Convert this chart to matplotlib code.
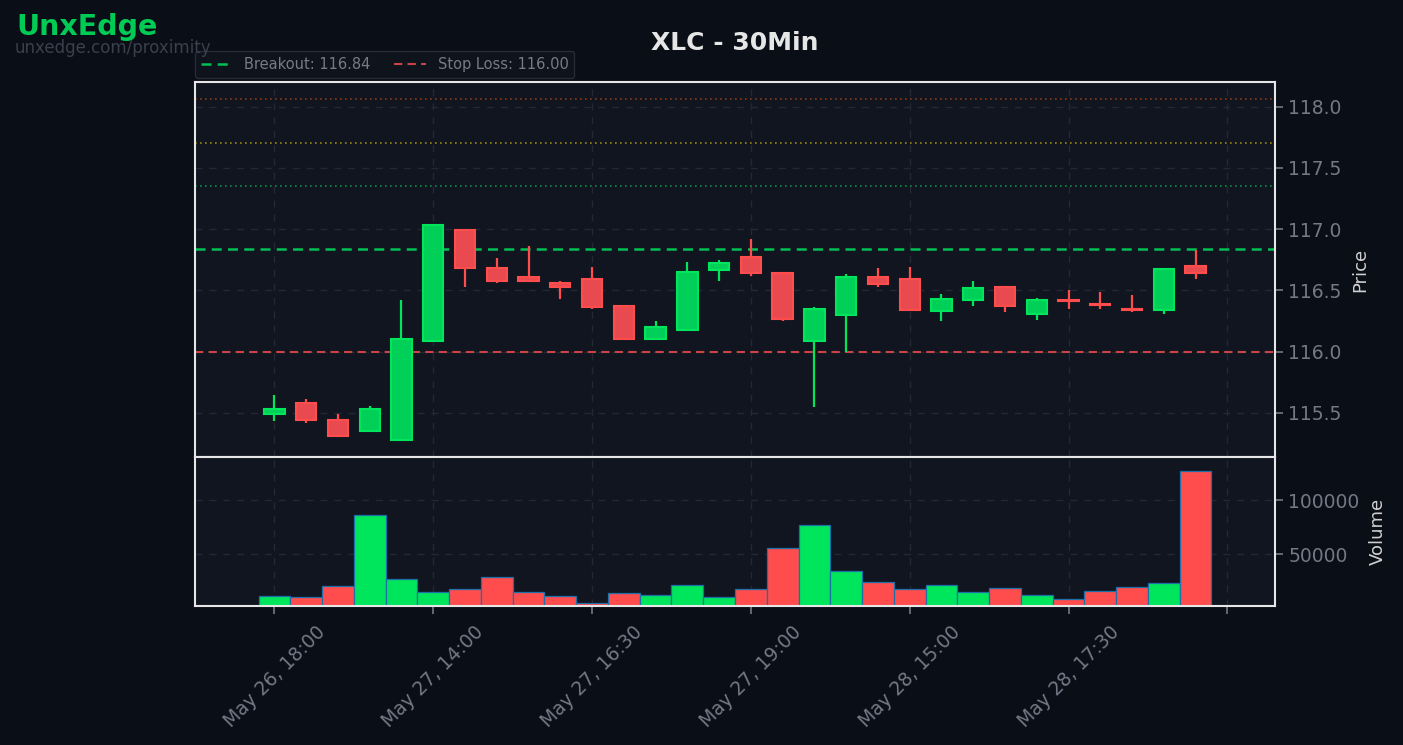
import matplotlib
matplotlib.use("Agg")
import matplotlib.pyplot as plt
import numpy as np

# ---------------- data ----------------
opens  = [115.49, 115.58, 115.44, 115.35, 115.28, 116.09, 116.99, 116.68, 116.61, 116.56,
          116.59, 116.37, 116.10, 116.18, 116.67, 116.77, 116.64, 116.09, 116.30, 116.61,
          116.59, 116.33, 116.42, 116.53, 116.31, 116.42, 116.39, 116.35, 116.34, 116.70]
highs  = [115.65, 115.61, 115.49, 115.56, 116.42, 117.04, 117.00, 116.76, 116.86, 116.58,
          116.69, 116.38, 116.25, 116.73, 116.75, 116.92, 116.64, 116.36, 116.63, 116.68,
          116.69, 116.47, 116.58, 116.53, 116.44, 116.50, 116.49, 116.46, 116.67, 116.83]
lows   = [115.43, 115.42, 115.31, 115.34, 115.27, 116.08, 116.53, 116.56, 116.58, 116.43,
          116.35, 116.10, 116.10, 116.18, 116.58, 116.62, 116.25, 115.55, 116.00, 116.53,
          116.34, 116.25, 116.37, 116.32, 116.26, 116.35, 116.35, 116.32, 116.31, 116.59]
closes = [115.53, 115.44, 115.31, 115.53, 116.10, 117.03, 116.68, 116.58, 116.58, 116.53,
          116.36, 116.10, 116.20, 116.65, 116.72, 116.64, 116.27, 116.35, 116.61, 116.55,
          116.34, 116.43, 116.52, 116.37, 116.42, 116.41, 116.38, 116.34, 116.67, 116.64]
volumes = [11500, 10500, 20700, 86500, 27200, 15700, 18000, 29100, 15200, 11500,
           5000, 14300, 12400, 21700, 10500, 18000, 55900, 77200, 34600, 24400,
           18000, 21700, 15200, 18900, 12400, 8700, 16100, 19800, 23500, 126900]
tick_positions = [0, 5, 10, 15, 20, 25, 30]
tick_labels = ["May 26, 18:00", "May 27, 14:00", "May 27, 16:30", "May 27, 19:00",
               "May 28, 15:00", "May 28, 17:30", ""]
breakout = 116.84
stop_loss = 116.00
targets = [117.35, 117.70, 118.06]
target_colors = ["#0f8a4a", "#9a8a10", "#8a3a1a"]
title = "XLC - 30Min"

# ---------------- style ----------------
FIG_BG = "#0a0e17"
AX_BG = "#111520"
GREEN = "#00e65c"
GREEN_FILL = "#00d058"
RED = "#ff4d4d"
RED_FILL = "#e84a4f"
TICK_C = "#737985"
LABEL_C = "#d0d0d0"
SPINE_C = "#e6e6e6"
GRID_C = "#262b37"

fig = plt.figure(figsize=(14.03, 7.45), dpi=100, facecolor=FIG_BG)
L, R = 195 / 1403, 1275 / 1403
ax = fig.add_axes([L, 1 - 457 / 745, R - L, (457 - 82) / 745])
axv = fig.add_axes([L, 1 - 606 / 745, R - L, (606 - 457) / 745], sharex=ax)

n = len(opens)
x = np.arange(n)
o = np.array(opens); c = np.array(closes); h = np.array(highs); lo = np.array(lows)
up = c >= o

for a in (ax, axv):
    a.set_facecolor(AX_BG)
    for s in a.spines.values():
        s.set_color(SPINE_C)
        s.set_linewidth(1.5)
    a.grid(True, color=GRID_C, linestyle=(0, (5, 5)), linewidth=1.0, alpha=0.9)
    a.set_axisbelow(True)
    a.yaxis.tick_right()
    a.yaxis.set_label_position("right")
    a.tick_params(colors=TICK_C, labelsize=13.5, length=6, width=1.2)

# wicks
ax.vlines(x, lo, h, colors=[GREEN if u else RED for u in up], linewidth=1.6, zorder=2)
# bodies
body_bottom = np.minimum(o, c)
body_height = np.maximum(np.abs(c - o), 0.004)
ax.bar(x, body_height, bottom=body_bottom, width=0.64,
       color=[GREEN_FILL if u else RED_FILL for u in up],
       edgecolor=[GREEN if u else RED for u in up], linewidth=1.5, zorder=3)

# level lines
ax.axhline(breakout, color="#00c055", linestyle=(0, (4, 2.5)), linewidth=1.8, zorder=1,
           label=f"Breakout: {breakout:.2f}")
ax.axhline(stop_loss, color="#c94444", linestyle=(0, (4, 2.5)), linewidth=1.5, zorder=1,
           label=f"Stop Loss: {stop_loss:.2f}")
for t, col in zip(targets, target_colors):
    ax.axhline(t, color=col, linestyle=(0, (1, 2)), linewidth=1.2, zorder=1)

ax.set_xlim(-2.5, n + 1.5)
ax.set_ylim(115.14, 118.20)
ax.set_yticks([115.5, 116.0, 116.5, 117.0, 117.5, 118.0])
ax.set_ylabel("Price", color=LABEL_C, fontsize=13, labelpad=7)
ax.tick_params(axis="x", which="both", bottom=False, labelbottom=False)

leg = ax.legend(loc="lower left", bbox_to_anchor=(-0.003, 1.003), ncol=2, fontsize=10.5,
                frameon=True, facecolor="#0f131c", edgecolor="#262b36",
                labelcolor="#767b86", borderaxespad=0.2, columnspacing=1.6,
                handlelength=2.2)
leg.get_frame().set_alpha(1.0)

# volume
axv.bar(x, volumes, width=1.0, color=[GREEN if u else RED for u in up],
        edgecolor="#1f6fa8", linewidth=0.9, zorder=2)
axv.set_ylim(2500, max(volumes) * 1.1)
axv.set_yticks([50000, 100000])
axv.set_yticklabels(["50000", "100000"])
axv.set_ylabel("Volume", color=LABEL_C, fontsize=13, labelpad=7)
axv.set_xticks(tick_positions)
axv.set_xticklabels(tick_labels, rotation=45, ha="center")
axv.tick_params(axis="x", pad=6)

# texts
fig.text((L + R) / 2, 1 - 43 / 745, title, ha="center", va="center",
         fontsize=18, fontweight="bold", color="#e6e6e6")
fig.text(16 / 1403, 1 - 27 / 745, "UnxEdge", ha="left", va="center",
         fontsize=20.5, fontweight="bold", color="#00cc55")
fig.text(15 / 1403, 1 - 48 / 745, "unxedge.com/proximity", ha="left", va="center",
         fontsize=12, color="#3a404c")

fig.savefig("out.png", dpi=100, facecolor=FIG_BG)
